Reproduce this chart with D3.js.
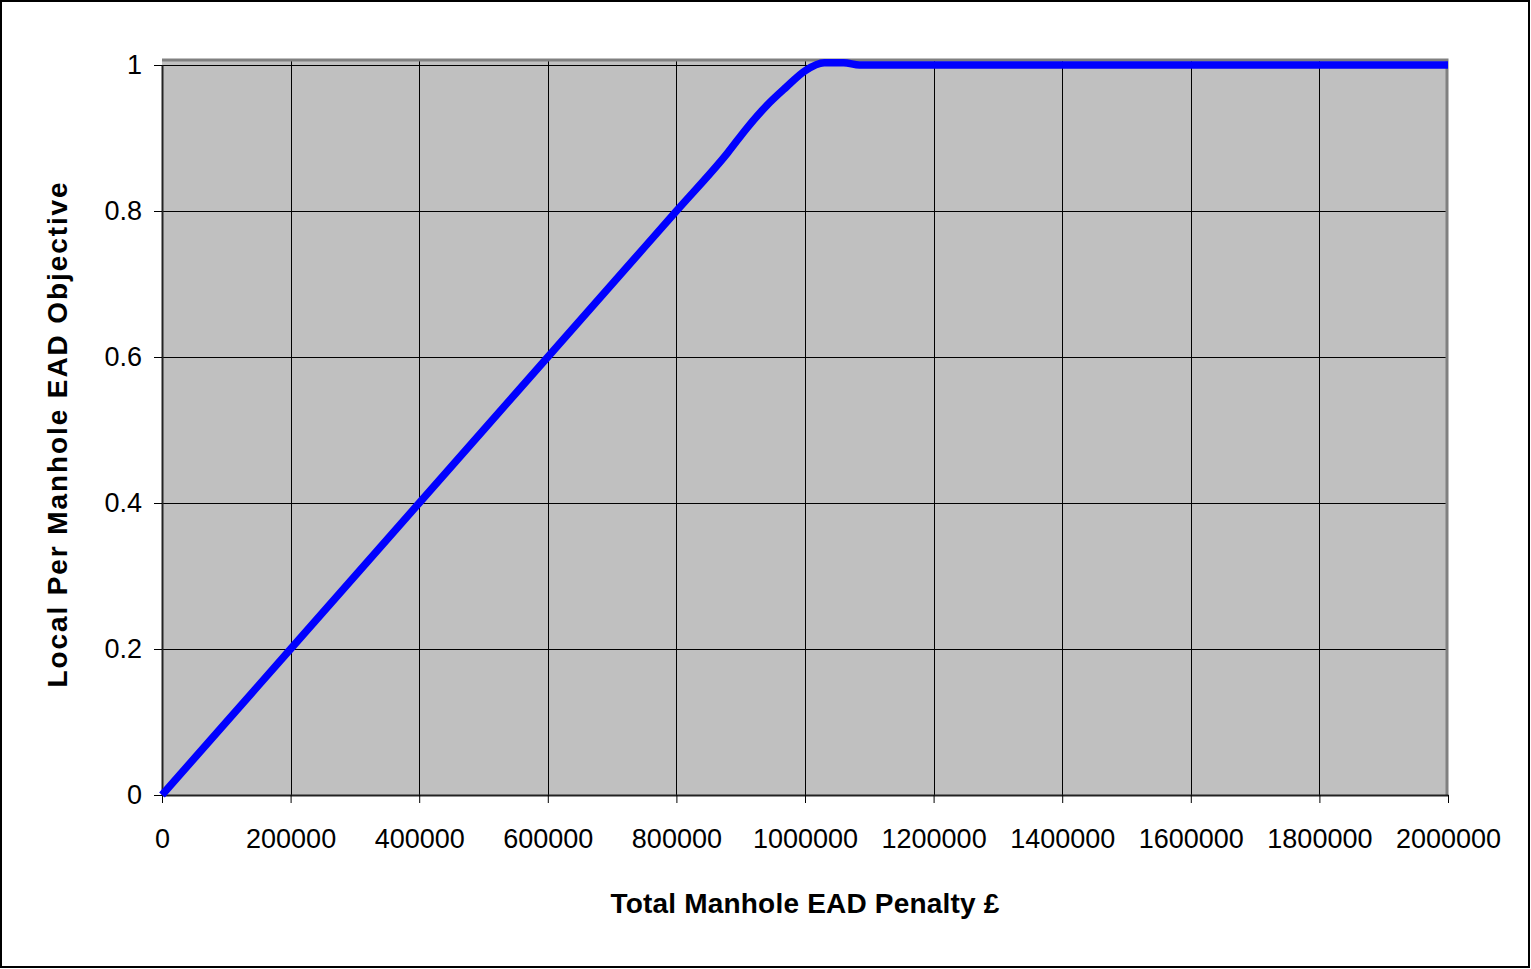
<!DOCTYPE html>
<html>
<head>
<meta charset="utf-8">
<script src="https://d3js.org/d3.v7.min.js"></script>
<style>
  body { margin: 0; background: #fff; }
  svg { display: block; }
  .tick text { font-family: "Liberation Sans", Arial, sans-serif; font-size: 27px; fill: #000; }
  .title { font-family: "Liberation Sans", Arial, sans-serif; font-size: 28px; font-weight: bold; fill: #000; }
</style>
</head>
<body>
<div id="chart"></div>
<script>
// Data
var penalty = [0, 100000, 200000, 300000, 400000, 500000, 600000, 700000, 800000,
  880000, 910000, 940000, 970000, 1000000, 1030000, 1060000, 1085000,
  1200000, 1400000, 1600000, 1800000, 2000000];
var objective = [0, 0.1, 0.2, 0.3, 0.4, 0.5, 0.6, 0.7, 0.8,
  0.88, 0.914, 0.944, 0.969, 0.992, 1.003, 1.003, 1.0,
  1.0, 1.0, 1.0, 1.0, 1.0];
var xTicks = [0, 200000, 400000, 600000, 800000, 1000000, 1200000, 1400000, 1600000, 1800000, 2000000];
var yTicks = [0, 0.2, 0.4, 0.6, 0.8, 1];

var width = 1531,
    height = 969;

var svg = d3.select("#chart").append("svg")
    .attr("width", width)
    .attr("height", height);

// outer frame
svg.append("rect")
    .attr("x", 1).attr("y", 1)
    .attr("width", width - 3).attr("height", height - 3)
    .attr("fill", "#fff")
    .attr("stroke", "#000")
    .attr("stroke-width", 2);

var x = d3.scaleLinear()
    .domain([0, 2000000])
    .range([162, 1448]);

var y = d3.scaleLinear()
    .domain([0, 1])
    .range([795, 65]);

var plotTop = 59;

// plot area
svg.append("rect")
    .attr("x", x(0))
    .attr("y", plotTop)
    .attr("width", x(2000000) - x(0))
    .attr("height", y(0) - plotTop)
    .attr("fill", "#c0c0c0");

// gridlines
svg.append("g")
  .selectAll("line")
  .data(yTicks)
  .enter().append("line")
    .attr("x1", x(0)).attr("x2", x(2000000))
    .attr("y1", function(d) { return Math.round(y(d)) + 0.5; })
    .attr("y2", function(d) { return Math.round(y(d)) + 0.5; })
    .attr("stroke", "#000")
    .attr("stroke-width", 1);

svg.append("g")
  .selectAll("line")
  .data(xTicks.slice(1, -1))
  .enter().append("line")
    .attr("x1", function(d) { return Math.round(x(d)) + 0.5; })
    .attr("x2", function(d) { return Math.round(x(d)) + 0.5; })
    .attr("y1", plotTop).attr("y2", y(0))
    .attr("stroke", "#000")
    .attr("stroke-width", 1);

// top and right plot border (gray)
svg.append("path")
    .attr("d", "M" + x(0) + "," + (plotTop + 1) + "H" + (x(2000000) - 1) + "V" + y(0))
    .attr("fill", "none")
    .attr("stroke", "#808080")
    .attr("stroke-width", 3);

// axes
var xAxis = d3.axisBottom(x)
    .tickValues(xTicks)
    .tickFormat(d3.format("d"))
    .tickSizeInner(8)
    .tickSizeOuter(0)
    .tickPadding(26);

var yAxis = d3.axisLeft(y)
    .tickValues(yTicks)
    .tickFormat(function(d) { return d; })
    .tickSizeInner(8)
    .tickSizeOuter(0)
    .tickPadding(12);

var gx = svg.append("g")
    .attr("transform", "translate(0," + y(0) + ")")
    .call(xAxis);

var gy = svg.append("g")
    .attr("transform", "translate(" + x(0) + ",0)")
    .call(yAxis);

[gx, gy].forEach(function(g) {
  g.select(".domain").attr("stroke", "#222").attr("stroke-width", 2);
  g.selectAll(".tick line").attr("stroke", "#000");
});

// the curve
var line = d3.line()
    .x(function(d) { return x(d[0]); })
    .y(function(d) { return y(d[1]); })
    .curve(d3.curveMonotoneX);

svg.append("path")
    .datum(d3.zip(penalty, objective))
    .attr("d", line)
    .attr("fill", "none")
    .attr("stroke", "#0000ff")
    .attr("stroke-width", 7.5)
    .attr("stroke-linejoin", "round");

// titles
svg.append("text")
    .attr("class", "title")
    .attr("x", 805)
    .attr("y", 913)
    .attr("text-anchor", "middle")
    .attr("letter-spacing", "0.2")
    .text("Total Manhole EAD Penalty £");

svg.append("text")
    .attr("class", "title")
    .attr("transform", "translate(67,434) rotate(-90)")
    .attr("text-anchor", "middle")
    .attr("letter-spacing", "1.9")
    .text("Local Per Manhole EAD Objective");
</script>
</body>
</html>
